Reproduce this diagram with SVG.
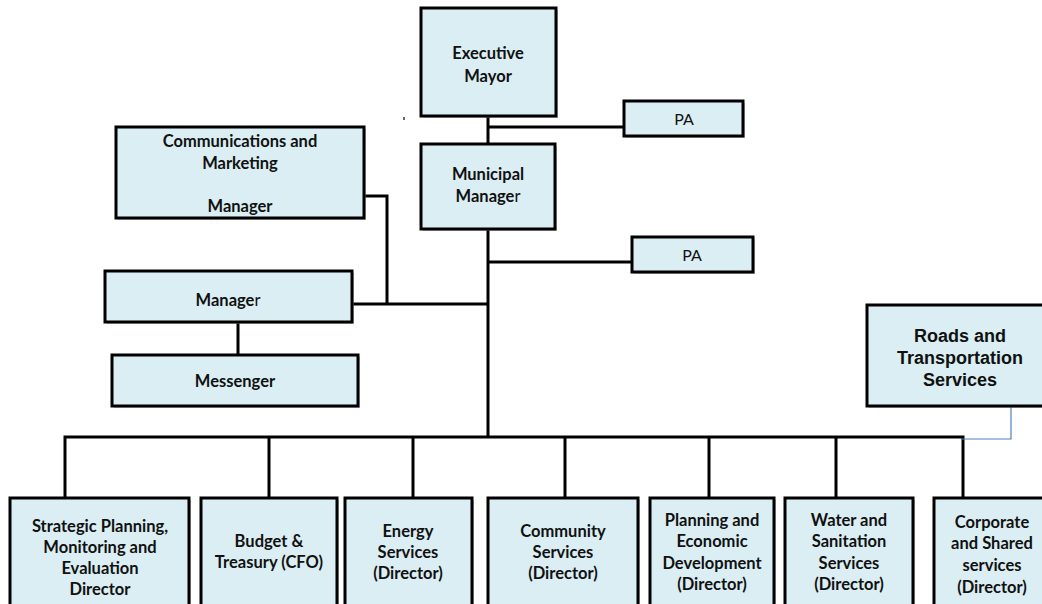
<svg xmlns="http://www.w3.org/2000/svg" width="1042" height="604" viewBox="0 0 1042 604">
<style>
.box{fill:#DAEEF3;stroke:#000;stroke-width:3}
.sh{fill:#9a9a9a;opacity:.55}
.t{font-family:Lato,"Open Sans","Liberation Sans",sans-serif;font-weight:bold;font-size:16.5px;fill:#111;text-anchor:middle}
.n{font-weight:normal}
.a{font-family:"Liberation Sans",Arial,sans-serif;font-weight:bold;font-size:18px;fill:#111;text-anchor:middle}
.p{font-family:Lato,"Open Sans","Liberation Sans",sans-serif;font-size:16px;fill:#111;text-anchor:middle}
.c{fill:none;stroke:#000;stroke-width:3}
</style>
<rect width="1042" height="604" fill="#fff"/>
<g id="connectors">
<path class="c" d="M488 116V437"/>
<path class="c" d="M488 127H624"/>
<path class="c" d="M488 262H632"/>
<path class="c" d="M364 196H387V304"/>
<path class="c" d="M352 304H488"/>
<path class="c" d="M238 322V355"/>
<path class="c" d="M65 498V437H963V498"/>
<path class="c" d="M269 437V498M413 437V498M565 437V498M709 437V498M836 437V498"/>
<path fill="none" stroke="#4F81BD" stroke-width="1.2" d="M1011 406V439H962"/>
<path stroke="#000" stroke-width="1.2" d="M404 117V120"/>
</g>
<g id="executive-mayor"><rect class="sh" x="423" y="10" width="135" height="108"/><rect class="box" x="421" y="8" width="135" height="108"/><text class="t" x="488" y="59">Executive</text><text class="t" x="488" y="82">Mayor</text></g>
<g id="pa-1"><rect class="sh" x="626" y="103" width="119" height="35"/><rect class="box" x="624" y="101" width="119" height="35"/><text class="p" x="684" y="125">PA</text></g>
<g id="municipal-manager"><rect class="sh" x="423" y="146" width="134" height="85"/><rect class="box" x="421" y="144" width="134" height="85"/><text class="t" x="488" y="180">Municipal</text><text class="t" x="488" y="202">Manage<tspan class="n">r</tspan></text></g>
<g id="pa-2"><rect class="sh" x="634" y="239" width="121" height="35"/><rect class="box" x="632" y="237" width="121" height="35"/><text class="p" x="692" y="261">PA</text></g>
<g id="communications"><rect class="sh" x="118" y="129" width="248" height="91"/><rect class="box" x="116" y="127" width="248" height="91"/><text class="t" x="240" y="147">Communications and</text><text class="t" x="240" y="169">Marketing</text><text class="t" x="240" y="212">Manager</text></g>
<g id="manager"><rect class="sh" x="107" y="273" width="247" height="51"/><rect class="box" x="105" y="271" width="247" height="51"/><text class="t" x="228" y="306">Manage<tspan class="n">r</tspan></text></g>
<g id="messenger"><rect class="sh" x="114" y="357" width="246" height="51"/><rect class="box" x="112" y="355" width="246" height="51"/><text class="t" x="235" y="387">Messenger</text></g>
<g id="roads"><rect class="sh" x="869" y="307" width="180" height="101"/><rect class="box" x="867" y="305" width="180" height="101"/><text class="a" x="960" y="342">Roads and</text><text class="a" x="960" y="364">Transportation</text><text class="a" x="960" y="386">Services</text></g>
<g id="strategic"><rect class="sh" x="12" y="500" width="179" height="120"/><rect class="box" x="10" y="498" width="179" height="120"/><text class="t" x="100" y="532">Strategic Planning,</text><text class="t" x="100" y="553">Monitoring and</text><text class="t" x="100" y="574">Evaluation</text><text class="t" x="100" y="595">Director</text></g>
<g id="budget"><rect class="sh" x="203" y="500" width="136" height="120"/><rect class="box" x="201" y="498" width="136" height="120"/><text class="t" x="269" y="547">Budget &amp;</text><text class="t" x="269" y="568">Treasury (CFO)</text></g>
<g id="energy"><rect class="sh" x="347" y="500" width="127" height="120"/><rect class="box" x="345" y="498" width="127" height="120"/><text class="t" x="408" y="537">Energy</text><text class="t" x="408" y="558">Services</text><text class="t" x="408" y="579">(Director)</text></g>
<g id="community"><rect class="sh" x="490" y="500" width="150" height="120"/><rect class="box" x="488" y="498" width="150" height="120"/><text class="t" x="563" y="537">Community</text><text class="t" x="563" y="558">Services</text><text class="t" x="563" y="579">(Director)</text></g>
<g id="planning"><rect class="sh" x="652" y="500" width="124" height="120"/><rect class="box" x="650" y="498" width="124" height="120"/><text class="t" x="712" y="526">Planning and</text><text class="t" x="712" y="547">Economic</text><text class="t" x="712" y="569">Development</text><text class="t" x="712" y="590">(Director)</text></g>
<g id="water"><rect class="sh" x="787" y="500" width="128" height="120"/><rect class="box" x="785" y="498" width="128" height="120"/><text class="t" x="849" y="526">Water and</text><text class="t" x="849" y="547">Sanitation</text><text class="t" x="849" y="569">Services</text><text class="t" x="849" y="590">(Director)</text></g>
<g id="corporate"><rect class="sh" x="936" y="500" width="126" height="120"/><rect class="box" x="934" y="498" width="126" height="120"/><text class="t" x="992" y="528">Corporate</text><text class="t" x="992" y="549">and Shared</text><text class="t" x="992" y="571">services</text><text class="t" x="992" y="593">(Director)</text></g>
</svg>
